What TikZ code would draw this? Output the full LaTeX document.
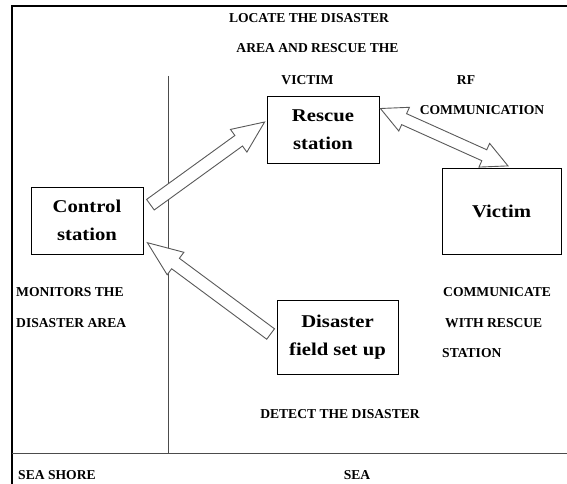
\documentclass[tikz,border=0pt]{standalone}
\usepackage{fontspec}
\setmainfont{Liberation Serif}
\newfontfamily\boxfont{Liberation Serif}[FakeStretch=1.15]
\usetikzlibrary{calc}

\tikzset{
	station/.style={draw, line width=0.8pt, align=center, inner sep=0pt,
		font=\boxfont\bfseries\fontsize{18}{28}\selectfont},
	note/.style={inner sep=0pt, font=\bfseries\fontsize{13.6}{16}\selectfont},
	fat/.style={draw=gray!70!black, fill=white, line width=0.9pt, line join=miter},
	shore/.style={draw=black!70, line width=0.9pt},
}

% hollow block arrow: tail, tip, head length
\newcommand{\fatarrow}[3]{%
	\coordinate (fa-n) at ($(#2)!#3!(#1)$);
	\draw[fat] ($(#1)!6.5pt!90:(#2)$) -- ($(fa-n)!6.5pt!-90:(#1)$) -- ($(fa-n)!14pt!-90:(#1)$) -- (#2)
		-- ($(fa-n)!14pt!90:(#1)$) -- ($(fa-n)!6.5pt!90:(#1)$) -- ($(#1)!6.5pt!-90:(#2)$) -- cycle;
}
% hollow block arrow with two heads
\newcommand{\fatdarrow}[3]{%
	\coordinate (fa-n) at ($(#2)!#3!(#1)$);
	\coordinate (fa-m) at ($(#1)!#3!(#2)$);
	\draw[fat] (#1) -- ($(fa-m)!13pt!90:(#2)$) -- ($(fa-m)!6pt!90:(#2)$) -- ($(fa-n)!6pt!-90:(#1)$)
		-- ($(fa-n)!13pt!-90:(#1)$) -- (#2) -- ($(fa-n)!13pt!90:(#1)$) -- ($(fa-n)!6pt!90:(#1)$)
		-- ($(fa-m)!6pt!-90:(#2)$) -- ($(fa-m)!13pt!-90:(#2)$) -- cycle;
}

\begin{document}
\begin{tikzpicture}[x=1pt, y=-1pt]
	\useasboundingbox (0,0) rectangle (567,484);

	% frame and shore lines
	\draw[line width=2pt] (12,484) -- (12,6) -- (567,6);
	\draw[shore] (168,76) -- (168,453);
	\draw[shore] (12,453) -- (567,453);

	% stations
	\node[station, minimum width=112, minimum height=67] (rescue) at (323,129.5) {Rescue\\station};
	\node[station, minimum width=112, minimum height=67] (control) at (87,220.7) {Control\\station};
	\node[station, minimum width=119, minimum height=86] (victim) at (501.5,211.3) {Victim};
	\node[station, minimum width=121, minimum height=74] (field) at (337.5,337) {Disaster\\field set up};

	% arrow ends
	\coordinate (cr-tail) at ([shift={(7,-16)}]control.east);
	\coordinate (cr-tip) at ([shift={(-2,-7.5)}]rescue.west);
	\coordinate (fc-tail) at ([shift={(-6,-3)}]field.west);
	\coordinate (fc-tip) at ([shift={(4,22)}]control.east);
	\coordinate (rv-a) at ([shift={(1,-21)}]rescue.east);
	\coordinate (rv-b) at ([shift={(6.5,-2)}]victim.north);

	\fatarrow{cr-tail}{cr-tip}{32pt}
	\fatarrow{fc-tail}{fc-tip}{35pt}
	\fatdarrow{rv-a}{rv-b}{26pt}

	% notes
	\node[note] (locate1) at (309,18.3) {LOCATE THE DISASTER};
	\node[note] (locate2) at (317.5,48.3) {AREA AND RESCUE THE};
	\node[note] (locate3) at (307.5,80) {VICTIM};
	\node[note] (rf1) at (466,80) {RF};
	\node[note] (rf2) at (482,110) {COMMUNICATION};
	\node[note, anchor=west] (mon1) at (16,291.7) {MONITORS THE};
	\node[note, anchor=west] (mon2) at (16,323) {DISASTER AREA};
	\node[note, anchor=west] (com1) at (443,291.7) {COMMUNICATE};
	\node[note, anchor=west] (com2) at (445,323) {WITH RESCUE};
	\node[note, anchor=west] (com3) at (442,353) {STATION};
	\node[note] (detect) at (340,414) {DETECT THE DISASTER};
	\node[note, anchor=west] (seashore) at (18,475) {SEA SHORE};
	\node[note] (sea) at (357,475) {SEA};
\end{tikzpicture}
\end{document}
